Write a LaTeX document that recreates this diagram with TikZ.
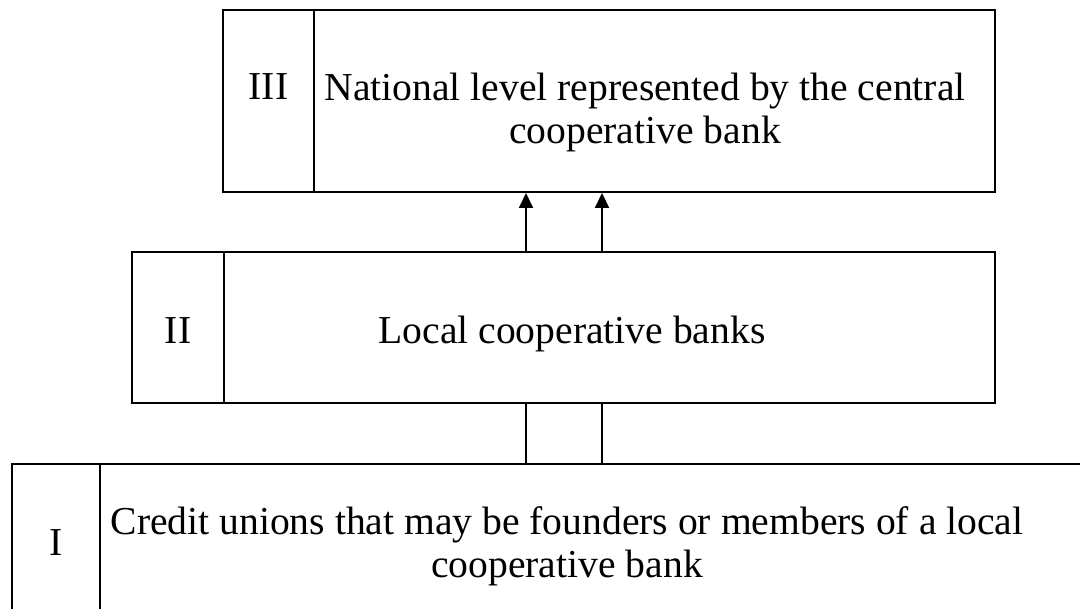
\documentclass[tikz,border=0pt]{standalone}
\usepackage{fontspec}
\setmainfont{Liberation Serif}
\usetikzlibrary{calc}
\usetikzlibrary{arrows.meta}
\newcommand{\tierfont}{\fontsize{19.8}{21.5}\selectfont}
\tikzset{
  frame/.style={draw,rectangle,line width=1pt,inner sep=0pt},
  caption/.style={align=center,inner sep=0pt},
  link/.style={line width=1pt},
  uplink/.style={link,-{Triangle[length=7.5pt,width=7pt]}}
}

\begin{document}
\begin{tikzpicture}[x=0.5pt,y=-0.5pt]
  \useasboundingbox (0,0) rectangle (1080,609);
  \clip (0,0) rectangle (1080,609);
  \tierfont

  % level III
  \node[frame,minimum width=386pt,minimum height=91pt] (tier3) at (609,101) {};
  \node[frame,minimum width=45.5pt,minimum height=91pt,anchor=west] (cell3) at (tier3.west) {};
  \node[anchor=base] (num3) at (268.5,100) {III};
  \node[caption] (txt3) at (645,112) {National level represented by the central\\cooperative bank};

  % level II
  \node[frame,minimum width=431.5pt,minimum height=75.5pt] (tier2) at (563.5,327.5) {};
  \node[frame,minimum width=46pt,minimum height=75.5pt,anchor=west] (cell2) at (tier2.west) {};
  \node[anchor=base] (num2) at (178,343) {II};
  \node[anchor=base] (txt2) at (572,343) {Local cooperative banks};

  % level I (runs off the page)
  \node[frame,minimum width=544pt,minimum height=88pt] (tier1) at (556,552) {};
  \node[frame,minimum width=44pt,minimum height=88pt,anchor=west] (cell1) at (tier1.west) {};
  \node[anchor=base] (num1) at (56,555) {I};
  \node[caption] (txt1) at (567,546) {Credit unions that may be founders or members of a local\\cooperative bank};

  % links
  \coordinate (L) at (526,0);
  \coordinate (R) at (602,0);
  \draw[uplink] (tier2.north -| L) -- (tier3.south -| L);
  \draw[uplink] (tier2.north -| R) -- (tier3.south -| R);
  \draw[link] (tier1.north -| L) -- (tier2.south -| L);
  \draw[link] (tier1.north -| R) -- (tier2.south -| R);
\end{tikzpicture}
\end{document}
